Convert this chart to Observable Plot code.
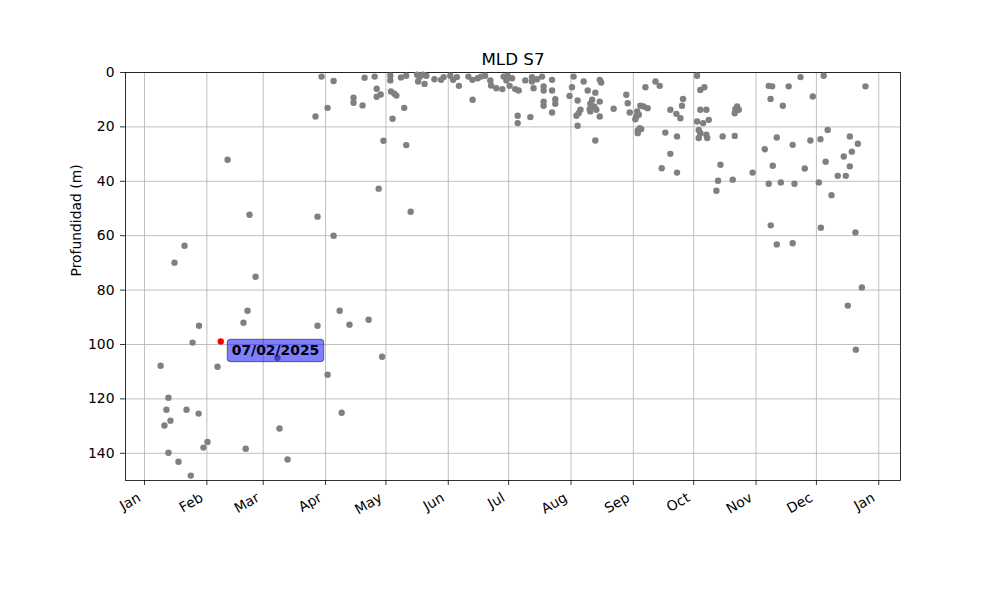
<!DOCTYPE html>
<html>
<head>
<meta charset="utf-8">
<script src="https://cdn.jsdelivr.net/npm/d3@7"></script>
<script src="https://cdn.jsdelivr.net/npm/@observablehq/plot@0.6"></script>
<style>
  html, body { margin: 0; padding: 0; background: #ffffff; }
  #chart { width: 1000px; height: 600px; }
</style>
</head>
<body>
<div id="chart"></div>
<script>
// ---- Data (day of year 2025, 0 = 1 Jan; mixed layer depth in metres) ----
const days = [
  88.0, 94.0, 109.4, 114.4, 115.4, 117.4, 115.4, 103.9, 103.9, 108.4,
  91.0, 85.0, 118.8, 41.3, 116.4, 52.2, 86.0, 94.0, 19.9, 14.9,
  55.2, 51.2, 97.0, 49.2, 27.1, 86.0, 101.9, 111.4, 23.9, 66.1,
  118.1, 8.0, 36.3, 91.0, 11.9, 10.9, 20.9, 26.9, 12.9, 9.9,
  98.0, 67.1, 31.3, 29.3, 50.3, 11.9, 16.9, 71.1, 23.0,
  122.2, 122.2, 122.5, 124.2, 125.2, 127.5, 130.1, 129.1, 123.3, 130.1,
  132.3, 135.5, 136.7, 136.0, 139.2, 140.1, 138.4, 144.1, 147.4, 148.7,
  152.0, 153.4, 155.3, 156.3, 161.0, 163.0, 165.6, 167.3, 169.3, 163.1,
  171.9, 172.3, 174.9, 177.9, 178.5, 179.9, 181.5, 180.5, 182.7, 184.3,
  186.0, 189.3, 192.6, 192.6, 195.1, 197.6, 193.4, 198.4, 198.4, 202.6,
  202.6, 198.4, 198.4, 204.2, 204.2, 202.6, 185.5, 185.5, 191.8, 213.3,
  212.5, 211.3, 218.3, 215.3, 220.3, 224.1, 226.3, 227.0, 222.5, 226.3,
  221.6, 223.6, 221.3, 221.6, 224.6, 216.7, 215.8, 214.7, 215.3, 226.3,
  233.2, 239.5, 240.2, 224.1, 241.2, 249.0, 254.0, 256.1, 246.5, 248.1,
  250.1, 244.9, 245.7, 244.0, 244.5, 246.2, 245.2, 245.2, 246.9, 261.4,
  264.4, 266.4, 267.2, 267.7, 258.9, 264.7, 261.4, 257.1, 264.7, 274.7,
  276.3, 278.3, 276.3, 279.3, 274.7, 277.7, 280.5, 275.5, 276.3, 275.5,
  279.3, 279.7, 287.4, 293.4, 293.7, 294.6, 295.4, 293.4, 286.3, 285.1,
  284.3, 292.4, 302.3, 310.3, 312.0, 311.2, 317.3, 320.2, 326.1, 332.2,
  337.6, 358.4, 339.6, 314.3, 308.3, 322.2, 331.0, 336.0, 350.6, 354.6,
  351.6, 347.6, 312.3, 328.2, 338.6, 350.6, 344.6, 348.6, 310.3, 316.3,
  323.1, 335.2, 341.5, 311.3, 314.3, 322.2, 336.2, 353.4, 356.6, 349.6,
  353.6
];
const mld = [
  1.5, 3.1, 1.9, 1.5, 6.0, 8.1, 8.9, 9.3, 11.1, 12.1,
  13.0, 16.2, 25.1, 32.1, 42.7, 52.3, 53.0, 60.0, 63.7, 69.9,
  75.1, 87.6, 87.6, 92.0, 93.1, 93.1, 92.7, 90.9, 99.3, 104.9,
  104.5, 107.8, 108.2, 111.1, 119.6, 124.0, 124.0, 125.4, 128.0, 129.8,
  125.1, 130.9, 135.8, 137.9, 138.3, 139.8, 143.1, 142.3, 148.2,
  1.2, 2.9, 7.0, 7.8, 8.5, 1.8, 1.2, 13.0, 17.0, 26.7,
  51.2, 0.8, 1.7, 3.3, 4.2, 1.2, 0.8, 2.5, 2.7, 1.7,
  1.2, 2.7, 1.7, 4.9, 1.5, 2.7, 2.1, 1.5, 1.2, 10.0,
  2.9, 4.8, 5.8, 6.1, 1.5, 2.9, 4.9, 1.2, 2.1, 6.1,
  6.6, 2.9, 1.7, 3.3, 2.5, 1.5, 5.8, 5.1, 6.6, 2.7,
  6.6, 10.7, 12.2, 9.8, 11.5, 14.7, 15.9, 18.6, 16.4, 1.5,
  5.4, 8.6, 3.3, 10.3, 6.6, 7.4, 2.7, 3.7, 10.0, 10.7,
  11.5, 12.5, 13.5, 14.3, 13.7, 13.7, 15.0, 15.9, 19.6, 16.2,
  13.3, 8.2, 11.3, 25.0, 14.7, 5.4, 3.3, 4.9, 12.2, 12.5,
  13.1, 14.3, 15.5, 17.2, 16.2, 20.5, 21.3, 22.3, 20.8, 13.7,
  15.2, 16.8, 12.2, 9.7, 22.1, 23.5, 29.9, 35.2, 36.8, 1.2,
  6.4, 5.4, 13.7, 13.7, 18.0, 18.6, 17.4, 21.1, 22.3, 24.1,
  22.9, 24.1, 23.5, 23.3, 13.5, 12.5, 13.7, 15.0, 33.9, 39.8,
  43.5, 39.4, 36.8, 4.9, 5.1, 9.7, 12.2, 5.1, 1.7, 8.8,
  1.2, 5.1, 21.1, 23.9, 28.2, 26.6, 25.0, 24.5, 23.5, 26.2,
  29.1, 30.9, 34.3, 35.3, 32.8, 34.5, 38.0, 38.0, 40.9, 40.4,
  40.9, 40.4, 45.1, 56.2, 63.2, 62.8, 57.1, 58.8, 79.0, 85.7,
  101.9
];
// highlighted profile (07/02/2025)
const highlightDay = [37.9];
const highlightMld = [98.9];

const monthTicks = ["2025-01-01","2025-02-01","2025-03-01","2025-04-01","2025-05-01","2025-06-01",
  "2025-07-01","2025-08-01","2025-09-01","2025-10-01","2025-11-01","2025-12-01","2026-01-01"];
const depthTicks = [0, 20, 40, 60, 80, 100, 120, 140];
const titleText = "MLD S7";
const yLabelText = "Profundidad (m)";

// ---- Build tables ----
const t0 = Date.UTC(2025, 0, 1);
const toDate = d => new Date(t0 + d * 864e5);
const points = days.map((d, i) => ({date: toDate(d), mld: mld[i]}));
const highlight = highlightDay.map((d, i) => ({date: toDate(d), mld: highlightMld[i]}));
const monthDates = monthTicks.map(s => new Date(s + "T00:00:00Z"));
const fmtMonth = d3.utcFormat("%b");
const fmtDay = d3.utcFormat("%d/%m/%Y");
const gridStyle = {stroke: "#b0b0b0", strokeOpacity: 1, strokeWidth: 0.8};

const plot = Plot.plot({
  width: 1000,
  height: 600,
  marginLeft: 125,
  marginRight: 100,
  marginTop: 72,
  marginBottom: 120,
  style: {fontFamily: "DejaVu Sans, sans-serif", fontSize: "13.9px", background: "#ffffff", color: "#000000"},
  x: {type: "utc", domain: [toDate(-9.45), toDate(375.8)]},
  y: {domain: [0, 150], reverse: true},
  marks: [
    Plot.gridX(monthDates, gridStyle),
    Plot.gridY(depthTicks, gridStyle),
    Plot.axisX(monthDates, {tickSize: 5, tickFormat: () => "", label: null, strokeWidth: 0.8}),
    Plot.text(monthDates, {
      x: d => d, frameAnchor: "bottom", text: d => fmtMonth(d),
      rotate: -30, textAnchor: "end", lineAnchor: "middle", dx: -5, dy: 16,
      fill: "#000000", fontSize: 13.9
    }),
    Plot.axisY(depthTicks, {tickSize: 5, tickPadding: 6, label: null, strokeWidth: 0.8, fontSize: 13.9}),
    Plot.frame({stroke: "#000000", strokeWidth: 0.8}),
    Plot.dot(points, {x: "date", y: "mld", r: 3.2, fill: "#808080"}),
    Plot.dot(highlight, {x: "date", y: "mld", r: 3.2, fill: "#ff0000"}),
    Plot.text(highlight, {
      x: "date", y: "mld", text: d => fmtDay(d.date),
      dx: 11, dy: 9.5, textAnchor: "start", lineAnchor: "middle",
      fontWeight: "bold", fill: "#000000", fontSize: 13.9
    }),
    Plot.text([titleText], {frameAnchor: "top", dy: -8, lineAnchor: "bottom", fontSize: 16.7, fill: "#000000"}),
    Plot.text([yLabelText], {frameAnchor: "left", dx: -49, rotate: -90, fontSize: 13.9, fill: "#000000"})
  ]
});

document.getElementById("chart").append(plot);

// annotation box behind the highlighted date label
const labels = highlight.map(d => fmtDay(d.date));
plot.querySelectorAll("text").forEach(t => {
  if (labels.includes(t.textContent)) {
    const bb = t.getBBox();
    const padX = 4.5, padY = 3.2;
    const rect = document.createElementNS("http://www.w3.org/2000/svg", "rect");
    rect.setAttribute("x", bb.x - padX);
    rect.setAttribute("y", bb.y - padY);
    rect.setAttribute("width", bb.width + 2 * padX);
    rect.setAttribute("height", bb.height + 2 * padY);
    rect.setAttribute("rx", 3);
    rect.setAttribute("fill", "rgb(0,0,255)");
    rect.setAttribute("fill-opacity", 0.5);
    rect.setAttribute("stroke", "#000000");
    rect.setAttribute("stroke-opacity", 0.5);
    rect.setAttribute("stroke-width", 1);
    const tr = t.getAttribute("transform");
    if (tr) rect.setAttribute("transform", tr);
    t.parentNode.insertBefore(rect, t);
  }
});
</script>
</body>
</html>
